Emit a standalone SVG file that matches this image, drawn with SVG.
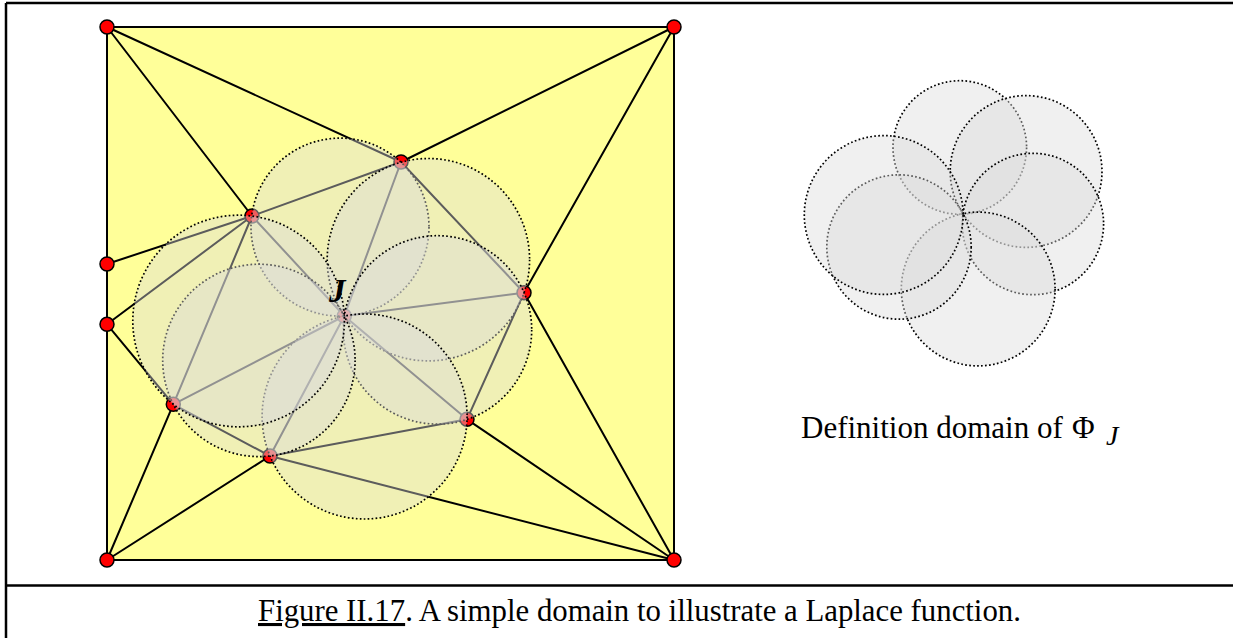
<svg xmlns="http://www.w3.org/2000/svg" width="1233" height="638" viewBox="0 0 1233 638">
<style>
.frame{stroke:#000;stroke-width:2.5;fill:none}
.edge{stroke:#000;stroke-width:2;fill:none;stroke-linecap:round}
.node{fill:#ff0000;stroke:#000;stroke-width:1.5}
.dom{fill:#dcdcdc;fill-opacity:0.42;stroke:#000;stroke-width:1.7;stroke-dasharray:1.7 2.3}
.lbl{font-family:"Liberation Serif","Times New Roman",serif;fill:#000}
</style>
<rect width="1233" height="638" fill="#fff"/>
<g id="frame">
<line class="frame" x1="6" y1="3" x2="1233" y2="3"/>
<line class="frame" x1="6" y1="3" x2="6" y2="638"/>
<line class="frame" x1="6" y1="585.5" x2="1233" y2="585.5"/>
</g>
<rect id="domain" x="107" y="27" width="567" height="533" fill="#ffff99" stroke="#000" stroke-width="2"/>
<g id="connectors">
<line class="edge" x1="107" y1="27" x2="252" y2="216"/>
<line class="edge" x1="107" y1="27" x2="401" y2="162"/>
<line class="edge" x1="674" y1="27" x2="401" y2="162"/>
<line class="edge" x1="674" y1="27" x2="524" y2="292.7"/>
<line class="edge" x1="524" y1="292.7" x2="674" y2="560"/>
<line class="edge" x1="467" y1="419.3" x2="674" y2="560"/>
<line class="edge" x1="270" y1="456" x2="674" y2="560"/>
<line class="edge" x1="270" y1="456" x2="107" y2="560"/>
<line class="edge" x1="173.3" y1="404.3" x2="107" y2="560"/>
<line class="edge" x1="107" y1="324.3" x2="173.3" y2="404.3"/>
<line class="edge" x1="107" y1="324.3" x2="252" y2="216"/>
<line class="edge" x1="107" y1="264" x2="252" y2="216"/>
<line class="edge" x1="252" y1="216" x2="401" y2="162"/>
<line class="edge" x1="401" y1="162" x2="524" y2="292.7"/>
<line class="edge" x1="524" y1="292.7" x2="467" y2="419.3"/>
<line class="edge" x1="467" y1="419.3" x2="270" y2="456"/>
<line class="edge" x1="270" y1="456" x2="173.3" y2="404.3"/>
<line class="edge" x1="173.3" y1="404.3" x2="252" y2="216"/>
<line class="edge" x1="344.3" y1="316" x2="252" y2="216"/>
<line class="edge" x1="344.3" y1="316" x2="401" y2="162"/>
<line class="edge" x1="344.3" y1="316" x2="524" y2="292.7"/>
<line class="edge" x1="344.3" y1="316" x2="467" y2="419.3"/>
<line class="edge" x1="344.3" y1="316" x2="270" y2="456"/>
<line class="edge" x1="344.3" y1="316" x2="173.3" y2="404.3"/>
</g>
<g id="n-tl"><circle class="node" cx="107" cy="27" r="7"/></g>
<g id="n-tr"><circle class="node" cx="674" cy="27" r="7"/></g>
<g id="n-bl"><circle class="node" cx="107" cy="560" r="7"/></g>
<g id="n-br"><circle class="node" cx="674" cy="560" r="7"/></g>
<g id="n-l1"><circle class="node" cx="107" cy="264" r="7"/></g>
<g id="n-l2"><circle class="node" cx="107" cy="324.3" r="7"/></g>
<g id="n-a"><circle class="node" cx="252" cy="216" r="7"/></g>
<g id="n-b"><circle class="node" cx="401" cy="162" r="7"/></g>
<g id="n-c"><circle class="node" cx="524" cy="292.7" r="7"/></g>
<g id="n-d"><circle class="node" cx="467" cy="419.3" r="7"/></g>
<g id="n-e"><circle class="node" cx="270" cy="456" r="7"/></g>
<g id="n-f"><circle class="node" cx="173.3" cy="404.3" r="7"/></g>
<g id="n-j"><circle class="node" cx="344.3" cy="316" r="7"/></g>
<g id="support-left">
<circle class="dom" cx="340" cy="227.1" r="89"/>
<circle class="dom" cx="428.4" cy="259.7" r="101.2"/>
<circle class="dom" cx="437.5" cy="329.9" r="94.2"/>
<circle class="dom" cx="364.6" cy="416.5" r="102.5"/>
<circle class="dom" cx="258.9" cy="360.4" r="96.2"/>
<circle class="dom" cx="238.6" cy="321" r="105.8"/>
</g>
<text class="lbl" x="329" y="302" font-size="33" font-weight="bold" font-style="italic">J</text>
<g id="support-right">
<circle class="dom" cx="959.8" cy="147.5" r="66.8"/>
<circle class="dom" cx="1026.1" cy="171.5" r="75.9"/>
<circle class="dom" cx="1032.9" cy="224" r="70.7"/>
<circle class="dom" cx="978.2" cy="289" r="76.9"/>
<circle class="dom" cx="899" cy="247" r="72.2"/>
<circle class="dom" cx="883.7" cy="215" r="79.4"/>
</g>
<text class="lbl" x="801" y="438" font-size="31">Definition domain of <tspan x="1072">Φ</tspan><tspan x="1106" y="445" font-style="italic" font-size="28">J</tspan></text>
<text class="lbl" x="258" y="621" font-size="30.8"><tspan text-decoration="underline">Figure II.17</tspan>. A simple domain to illustrate a Laplace function.</text>
</svg>
